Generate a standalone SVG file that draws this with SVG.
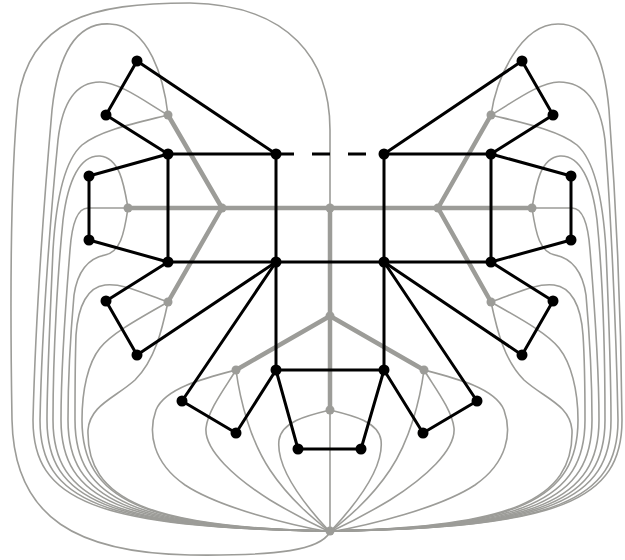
<svg xmlns="http://www.w3.org/2000/svg" width="625" height="560" viewBox="0 0 625 560">
<style>
.thin{fill:none;stroke:#9c9c98;stroke-width:1.6}
.thick{fill:none;stroke:#9c9c98;stroke-width:4.5;stroke-linecap:round}
.edge{fill:none;stroke:#000;stroke-width:3;stroke-linecap:round;stroke-linejoin:round}
.dash{fill:none;stroke:#000;stroke-width:3;stroke-dasharray:18 18}
.pn{fill:#000}
.dn{fill:#9c9c98}
</style>
<rect width="625" height="560" fill="#fff"/>
<g id="connectors">
<g id="dual-thin">
<path class="thin" d="M330,208 L330,130 C330,60 290,5 190,3 C90,3 30,20 18,100 C10,180 10,300 12,420 C14,520 80,553 190,555 C280,556 320,550 330,532"/>
<path class="thin" d="M168,115 C164,80 150,26 110,24 C75,22 58,55 52,110 C45,190 36,300 33,420 C33,500 93,528 330,531"/>
<path class="thin" d="M168,115 C150,105 120,82 100,82 C75,82 62,105 58,140 C52,200 42,320 40,420 C40,500 100,528 330,531"/>
<path class="thin" d="M168,115 C140,122 100,130 82,145 C65,160 56,200 53,250 C50,320 47,380 47,420 C47,500 107,528 330,531"/>
<path class="thin" d="M128,208 C124,185 120,158 100,156 C80,155 68,180 63,220 C58,270 53,350 53,420 C53,500 113,528 330,531"/>
<path class="thin" d="M128,208 L88,208 C78,208 72,222 70,250 C66,300 61,360 61,420 C61,500 121,528 330,531"/>
<path class="thin" d="M128,208 C124,235 120,252 105,255 C90,258 78,268 74,295 C70,340 68,380 68,420 C68,500 128,528 330,531"/>
<path class="thin" d="M168,302 C140,292 122,283 105,285 C88,287 78,305 76,335 C75,365 75,395 75,420 C75,500 135,528 330,531"/>
<path class="thin" d="M168,302 C140,318 112,333 100,348 C88,363 82,390 82,420 C82,500 142,528 330,531"/>
<path class="thin" d="M168,302 C162,330 155,360 135,380 C115,398 90,405 88,430 C86,500 150,528 330,531"/>
<path class="thin" d="M236,370 C205,378 165,388 156,410 C148,432 152,462 185,485 C220,508 290,525 330,532"/>
<path class="thin" d="M236,370 C225,388 208,410 206,428 C204,450 235,478 270,500 C295,515 315,525 330,532"/>
<path class="thin" d="M236,370 C240,400 250,440 270,470 C290,500 315,520 330,532"/>
<path class="thin" d="M330,410 C305,416 282,422 279,440 C276,465 300,500 330,532"/>
<path class="thin" d="M330,410 L330,532"/>
<path class="thin" d="M330,410 C355,416 378,422 381,440 C384,465 360,500 330,532"/>
<path class="thin" d="M424,370 C420,400 410,440 390,470 C370,500 345,520 330,532"/>
<path class="thin" d="M424,370 C435,388 452,410 454,428 C456,450 425,478 390,500 C365,515 345,525 330,532"/>
<path class="thin" d="M424,370 C455,378 495,388 504,410 C512,432 508,462 475,485 C440,508 370,525 330,532"/>
<path class="thin" d="M491,302 C519,292 537,283 554,285 C571,287 581,305 583,335 C585,365 585,395 585,420 C585,500 525,528 330,531"/>
<path class="thin" d="M491,302 C519,318 547,333 559,348 C571,363 578,390 578,420 C578,500 518,528 330,531"/>
<path class="thin" d="M491,302 C497,330 504,360 524,380 C544,398 570,405 572,430 C574,500 510,528 330,531"/>
<path class="thin" d="M532,208 C536,185 540,158 560,156 C580,155 592,180 597,220 C602,270 605,350 605,420 C605,500 545,528 330,531"/>
<path class="thin" d="M532,208 L572,208 C582,208 588,222 590,250 C594,300 599,360 599,420 C599,500 539,528 330,531"/>
<path class="thin" d="M532,208 C536,235 540,252 555,255 C570,258 582,268 586,295 C590,340 592,380 592,420 C592,500 532,528 330,531"/>
<path class="thin" d="M491,115 C496,80 520,24 558,24 C590,24 604,55 609,110 C615,190 621,300 622,420 C622,500 562,528 330,531"/>
<path class="thin" d="M491,115 C509,105 539,82 559,82 C584,82 600,100 605,140 C610,200 616,320 618,420 C618,500 558,528 330,531"/>
<path class="thin" d="M491,115 C519,122 559,130 577,145 C594,160 603,200 606,250 C609,320 611,380 611,420 C611,500 551,528 330,531"/>
</g>
<g id="dual-thick">
<path class="thick" d="M168,115 L222,208 M128,208 L222,208 M168,302 L222,208 M222,208 L438,208 M438,208 L491,115 M438,208 L532,208 M438,208 L491,302 M330,208 L330,316 M330,316 L236,370 M330,316 L424,370 M330,316 L330,410"/>
</g>
<g id="primal-edges">
<path class="edge" d="M137,61 L106,115 L168,154 L276,154 L137,61"/>
<path class="dash" d="M276,154 L384,154"/>
<path class="edge" d="M384,154 L522,61 L553,115 L491,154 L384,154"/>
<path class="edge" d="M168,154 L89,176 L89,240 L168,262 L168,154"/>
<path class="edge" d="M491,154 L571,176 L571,240 L491,262 L491,154"/>
<path class="edge" d="M168,262 L491,262 M276,154 L276,370 M384,154 L384,370"/>
<path class="edge" d="M168,262 L106,301 L137,355 L276,262"/>
<path class="edge" d="M491,262 L553,301 L522,355 L384,262"/>
<path class="edge" d="M276,262 L182,401 L236,433 L276,370"/>
<path class="edge" d="M384,262 L477,401 L423,433 L384,370"/>
<path class="edge" d="M276,370 L384,370 M276,370 L298,449 L361,449 L384,370"/>
</g>
</g>
<g id="dual-nodes">
<g id="f1"><circle class="dn" cx="168" cy="115" r="4.5"/></g>
<g id="f2"><circle class="dn" cx="128" cy="208" r="4.5"/></g>
<g id="f3"><circle class="dn" cx="222" cy="208" r="4.5"/></g>
<g id="f4"><circle class="dn" cx="330" cy="208" r="4.5"/></g>
<g id="f5"><circle class="dn" cx="438" cy="208" r="4.5"/></g>
<g id="f6"><circle class="dn" cx="532" cy="208" r="4.5"/></g>
<g id="f7"><circle class="dn" cx="491" cy="115" r="4.5"/></g>
<g id="f8"><circle class="dn" cx="168" cy="302" r="4.5"/></g>
<g id="f9"><circle class="dn" cx="330" cy="316" r="4.5"/></g>
<g id="f10"><circle class="dn" cx="236" cy="370" r="4.5"/></g>
<g id="f11"><circle class="dn" cx="330" cy="410" r="4.5"/></g>
<g id="f12"><circle class="dn" cx="424" cy="370" r="4.5"/></g>
<g id="f13"><circle class="dn" cx="491" cy="302" r="4.5"/></g>
<g id="fo"><circle class="dn" cx="330" cy="531" r="4.5"/></g>
</g>
<g id="primal-nodes">
<g id="a1"><circle class="pn" cx="137" cy="61" r="5.5"/></g>
<g id="a2"><circle class="pn" cx="106" cy="115" r="5.5"/></g>
<g id="b1"><circle class="pn" cx="168" cy="154" r="5.5"/></g>
<g id="c1"><circle class="pn" cx="276" cy="154" r="5.5"/></g>
<g id="c2"><circle class="pn" cx="384" cy="154" r="5.5"/></g>
<g id="d1"><circle class="pn" cx="522" cy="61" r="5.5"/></g>
<g id="d2"><circle class="pn" cx="553" cy="115" r="5.5"/></g>
<g id="b2"><circle class="pn" cx="491" cy="154" r="5.5"/></g>
<g id="e1"><circle class="pn" cx="89" cy="176" r="5.5"/></g>
<g id="e2"><circle class="pn" cx="89" cy="240" r="5.5"/></g>
<g id="e3"><circle class="pn" cx="571" cy="176" r="5.5"/></g>
<g id="e4"><circle class="pn" cx="571" cy="240" r="5.5"/></g>
<g id="g1f"><circle class="pn" cx="168" cy="262" r="5.5"/></g>
<g id="g2f"><circle class="pn" cx="276" cy="262" r="5.5"/></g>
<g id="g3f"><circle class="pn" cx="384" cy="262" r="5.5"/></g>
<g id="g4f"><circle class="pn" cx="491" cy="262" r="5.5"/></g>
<g id="h1"><circle class="pn" cx="106" cy="301" r="5.5"/></g>
<g id="h2"><circle class="pn" cx="137" cy="355" r="5.5"/></g>
<g id="h3"><circle class="pn" cx="553" cy="301" r="5.5"/></g>
<g id="h4"><circle class="pn" cx="522" cy="355" r="5.5"/></g>
<g id="k1"><circle class="pn" cx="182" cy="401" r="5.5"/></g>
<g id="k2"><circle class="pn" cx="236" cy="433" r="5.5"/></g>
<g id="k3"><circle class="pn" cx="477" cy="401" r="5.5"/></g>
<g id="k4"><circle class="pn" cx="423" cy="433" r="5.5"/></g>
<g id="i1"><circle class="pn" cx="276" cy="370" r="5.5"/></g>
<g id="i2"><circle class="pn" cx="384" cy="370" r="5.5"/></g>
<g id="j1"><circle class="pn" cx="298" cy="449" r="5.5"/></g>
<g id="j2"><circle class="pn" cx="361" cy="449" r="5.5"/></g>
</g>
</svg>
